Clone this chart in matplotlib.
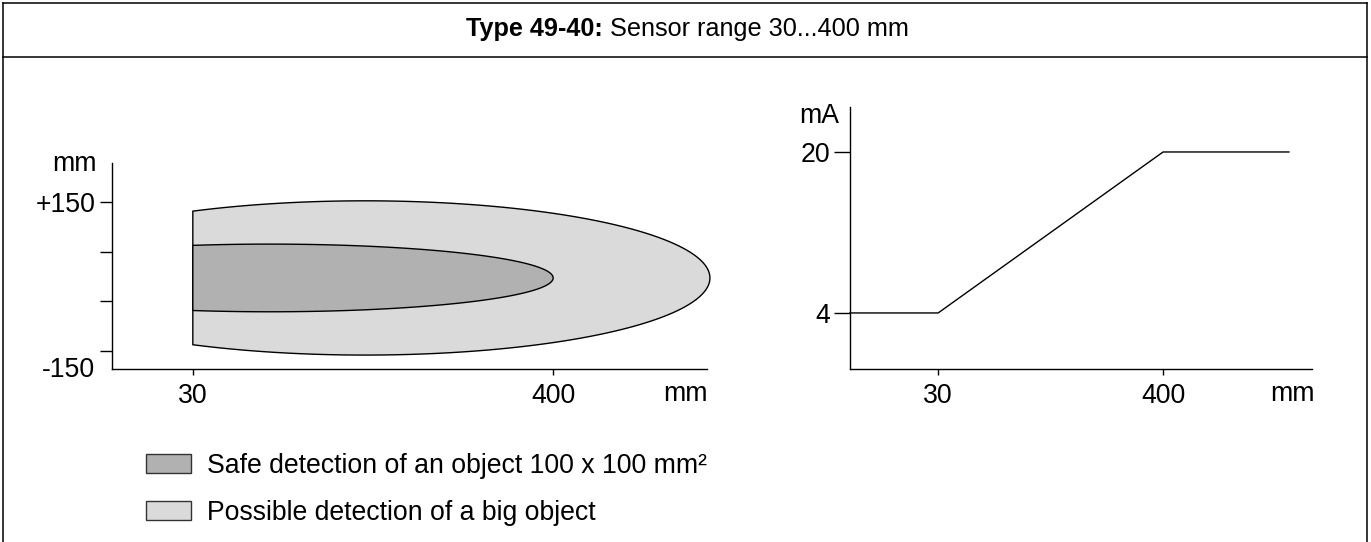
import matplotlib
matplotlib.use("Agg")
import matplotlib.pyplot as plt
import numpy as np
from matplotlib.lines import Line2D
from matplotlib.patches import Patch

plt.rcParams["font.family"] = ["Liberation Sans", "DejaVu Sans"]
plt.rcParams["font.size"] = 19.2

W, H = 1371, 542

# detection field (mm): centre x, half-length, half-width, centre y
outer_field = [207, 354, 155, -3]
inner_field = [109, 291, 68, -3]
field_start = 30
field_ticks = [150, 50, -50, -150]
field_labels = ["+150", "", "", ""]
range_ticks = [30, 400]

# current output (mA) vs distance (mm)
dist_mm = [-115, 30, 400, 607]
current_ma = [4, 4, 20, 20]
current_ticks = [4, 20]

safe_color = "#b0b1b0"
big_color = "#dadada"
legend_labels = ["Safe detection of an object 100 x 100 mm²",
                 "Possible detection of a big object"]


def rect(left, top, right, bottom):
    return [left / W, 1 - bottom / H, (right - left) / W, (bottom - top) / H]


def fpos(x, y):
    return x / W, 1 - y / H


def style_axes(ax):
    for side in ("top", "right"):
        ax.spines[side].set_visible(False)
    for side in ("left", "bottom"):
        ax.spines[side].set_linewidth(1.0)
    ax.tick_params(axis="x", direction="out", length=4, width=1.0, pad=6)


def half_field(ax, field, color):
    cx, a, b, cy = field
    t0 = np.arccos((field_start - cx) / a)
    theta = np.linspace(t0, -t0, 400)
    ax.fill(cx + a * np.cos(theta), cy + b * np.sin(theta), facecolor=color,
            edgecolor="black", lw=1.0, clip_on=False)


fig = plt.figure(figsize=(W / 100, H / 100), dpi=100)

# frame and header
for x0, y0, x1, y1 in [(3, 3, 1367, 3), (3, 3, 3, 542), (1367, 3, 1367, 542), (3, 57, 1367, 57)]:
    fig.add_artist(Line2D([x0 / W, x1 / W], [1 - y0 / H, 1 - y1 / H], color="black", lw=1.1))
fig.text(*fpos(603, 29), "Type 49-40:", ha="right", va="center", fontsize=18.2, fontweight="bold")
fig.text(*fpos(603, 29), " Sensor range 30...400 mm", ha="left", va="center", fontsize=18.2)

# left: detection field
ax1 = fig.add_axes(rect(112, 163, 707, 369))
style_axes(ax1)
ax1.set_xlim(-53, 558)
ax1.set_ylim(-186, 228)
half_field(ax1, outer_field, big_color)
half_field(ax1, inner_field, safe_color)
ax1.set_yticks(field_ticks)
ax1.set_yticklabels(field_labels)
ax1.tick_params(axis="y", direction="out", length=9, width=1.0, pad=3)
ax1.set_xticks(range_ticks)
fig.text(*fpos(97, 164), "mm", ha="right", va="center")
fig.text(*fpos(95, 370), "-150", ha="right", va="center")
fig.text(*fpos(685, 394), "mm", ha="center", va="center")

# right: current output
ax2 = fig.add_axes(rect(850, 107, 1312, 369))
style_axes(ax2)
ax2.set_xlim(-115, 645)
ax2.set_ylim(-1.57, 24.47)
ax2.plot(dist_mm, current_ma, color="black", lw=1.0, clip_on=False)
ax2.set_yticks(current_ticks)
ax2.tick_params(axis="y", direction="out", length=11.5, width=1.0, pad=3)
ax2.set_xticks(range_ticks)
fig.text(*fpos(839, 116), "mA", ha="right", va="center")
fig.text(*fpos(1292, 394), "mm", ha="center", va="center")

# legend
handles = [Patch(facecolor=safe_color, edgecolor="#333333", lw=1.0),
           Patch(facecolor=big_color, edgecolor="#333333", lw=1.0)]
fig.legend(handles, legend_labels, loc="upper left", bbox_to_anchor=fpos(146, 453),
           frameon=False, borderpad=0, borderaxespad=0, handlelength=1.7,
           handleheight=0.72, handletextpad=0.6, labelspacing=0.78)

fig.savefig("out.png", dpi=100)
